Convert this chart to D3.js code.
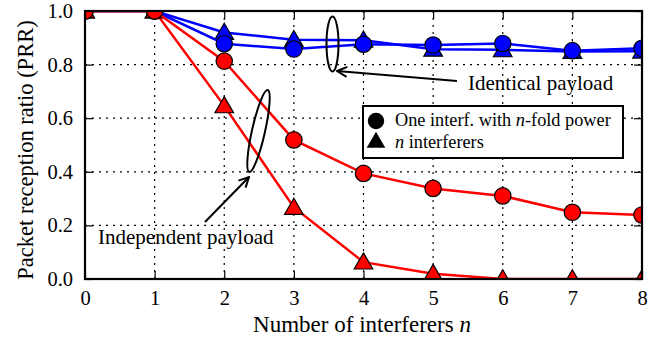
<!DOCTYPE html>
<html>
<head>
<meta charset="utf-8">
<script src="https://cdn.jsdelivr.net/npm/d3@7"></script>
<style>
body{margin:0;background:#fff;}
</style>
</head>
<body>
<svg id="chart" width="672" height="339"></svg>
<script>
// ---------------- data ----------------
var interferers = [0,1,2,3,4,5,6,7,8];
var identOneInterf = [1.0,1.0,0.878,0.858,0.876,0.873,0.879,0.852,0.861];
var identNInterf   = [1.0,1.0,0.920,0.893,0.891,0.857,0.855,0.849,0.850];
var indepOneInterf = [1.0,1.0,0.813,0.519,0.394,0.338,0.310,0.249,0.239];
var indepNInterf   = [1.0,1.0,0.646,0.267,0.063,0.020,0.0,0.0,0.0];
var xTicks = [0,1,2,3,4,5,6,7,8];
var yTicks = [0,0.2,0.4,0.6,0.8,1.0];

var RED="#ff0000", BLUE="#0000ff";
var FONT = "'Liberation Serif','Times New Roman',Times,serif";
var margin = {left:85,right:30,top:11,bottom:60};
var width = 672-margin.left-margin.right;
var height = 339-margin.top-margin.bottom;

var svg = d3.select("#chart");
var g = svg.append("g").attr("transform","translate("+margin.left+","+margin.top+")");

var x = d3.scaleLinear().domain([0,8]).range([0,width]);
var y = d3.scaleLinear().domain([0,1]).range([height,0]);

svg.append("defs").append("clipPath").attr("id","plotClip")
	.append("rect").attr("x",0).attr("y",0).attr("width",width).attr("height",height);

// grid
g.selectAll(".vgrid").data(xTicks.slice(1,-1)).enter().append("line")
	.attr("x1",function(d){return x(d);}).attr("x2",function(d){return x(d);})
	.attr("y1",0).attr("y2",height)
	.style("stroke","black").style("stroke-width",1.2).style("stroke-dasharray","2,5");
g.selectAll(".hgrid").data(yTicks.slice(1,-1)).enter().append("line")
	.attr("y1",function(d){return y(d);}).attr("y2",function(d){return y(d);})
	.attr("x1",0).attr("x2",width)
	.style("stroke","black").style("stroke-width",1.2).style("stroke-dasharray","2,5");

// axes, ticks inward on all sides
function _styleAxis(sel){
	sel.select(".domain").remove();
	sel.selectAll(".tick line").style("stroke","black").style("stroke-width",1.2);
	sel.selectAll("text").style("font-size","20.5px").style("fill","black");
}
g.append("g").attr("transform","translate(0,"+height+")")
	.call(d3.axisBottom(x).tickValues(xTicks).tickFormat(d3.format("d")).tickSizeInner(-8).tickPadding(11))
	.call(_styleAxis);
g.append("g")
	.call(d3.axisLeft(y).tickValues(yTicks).tickFormat(d3.format(".1f")).tickSizeInner(-8).tickPadding(12))
	.call(_styleAxis);
g.append("g")
	.call(d3.axisTop(x).tickValues(xTicks).tickSizeInner(-8).tickFormat(""))
	.call(_styleAxis);
g.append("g").attr("transform","translate("+width+",0)")
	.call(d3.axisRight(y).tickValues(yTicks).tickSizeInner(-8).tickFormat(""))
	.call(_styleAxis);

// series
var plot = g.append("g").attr("clip-path","url(#plotClip)");
var line = d3.line().x(function(d){return x(d[0]);}).y(function(d){return y(d[1]);});
var triangle = d3.symbol().type(d3.symbolTriangle).size(150);

function _drawSeries(values,color,marker){
	var pts = interferers.map(function(n,i){return [n,values[i]];});
	plot.append("path").datum(pts).attr("d",line)
		.style("fill","none").style("stroke",color).style("stroke-width",2.5);
	var m = plot.append("g");
	pts.forEach(function(p){
		if (marker=="circle"){
			m.append("circle").attr("cx",x(p[0])).attr("cy",y(p[1])).attr("r",8.2)
				.style("fill",color).style("stroke","black").style("stroke-width",1.2);
		} else {
			m.append("path").attr("d",triangle)
				.attr("transform","translate("+x(p[0])+","+(y(p[1])+1.5)+")")
				.style("fill",color).style("stroke","black").style("stroke-width",1.2);
		}
	});
}
_drawSeries(identNInterf,BLUE,"triangle");
_drawSeries(identOneInterf,BLUE,"circle");
_drawSeries(indepNInterf,RED,"triangle");
_drawSeries(indepOneInterf,RED,"circle");

// frame
g.append("rect").attr("width",width).attr("height",height)
	.style("fill","none").style("stroke","black").style("stroke-width",2.2);

// axis titles
svg.append("text").attr("x",362).attr("y",332).style("text-anchor","middle").style("font-size","23px")
	.html("Number of interferers <tspan font-style='italic'>n</tspan>");
svg.append("text").attr("transform","translate(33,150) rotate(-90)").style("text-anchor","middle")
	.style("font-size","22.5px").text("Packet reception ratio (PRR)");

// annotations
svg.append("defs").append("marker").attr("id","openArrow")
	.attr("viewBox","0 0 12 12").attr("refX",11).attr("refY",6)
	.attr("markerWidth",12).attr("markerHeight",12).attr("markerUnits","userSpaceOnUse")
	.attr("orient","auto")
	.append("path").attr("d","M1,1 L11,6 L1,11")
	.style("fill","none").style("stroke","black").style("stroke-width",2);

function _drawEllipse(cx,cy,rx,ry,angle){
	svg.append("ellipse").attr("cx",0).attr("cy",0).attr("rx",rx).attr("ry",ry)
		.attr("transform","translate("+cx+","+cy+") rotate("+angle+")")
		.style("fill","none").style("stroke","black").style("stroke-width",2);
}
function _drawArrow(x1,y1,x2,y2){
	svg.append("line").attr("x1",x1).attr("y1",y1).attr("x2",x2).attr("y2",y2)
		.style("stroke","black").style("stroke-width",2).attr("marker-end","url(#openArrow)");
}
_drawEllipse(332.5,44,6,27.5,0);
_drawArrow(457,81,337,71);
svg.append("text").attr("x",468).attr("y",90).style("font-size","21px").text("Identical payload");

_drawEllipse(258.5,131,6.5,42,12.7);
_drawArrow(205,222,249,177);
svg.append("text").attr("x",98).attr("y",244).style("font-size","21px").text("Independent payload");

// legend
var leg = svg.append("g").attr("transform","translate(363,106)");
leg.append("rect").attr("width",260).attr("height",52)
	.style("fill","white").style("stroke","black").style("stroke-width",2);
leg.append("circle").attr("cx",13).attr("cy",15).attr("r",8.2).style("fill","black");
leg.append("path").attr("d",triangle).attr("transform","translate(13,36.5)").style("fill","black");
leg.append("text").attr("x",32).attr("y",20).style("font-size","18.3px")
	.html("One interf. with <tspan font-style='italic'>n</tspan>-fold power");
leg.append("text").attr("x",32).attr("y",42).style("font-size","18.3px")
	.html("<tspan font-style='italic'>n</tspan> interferers");

// serif everywhere (axis sets sans-serif attr)
svg.selectAll("text").style("font-family",FONT);
</script>
</body>
</html>
